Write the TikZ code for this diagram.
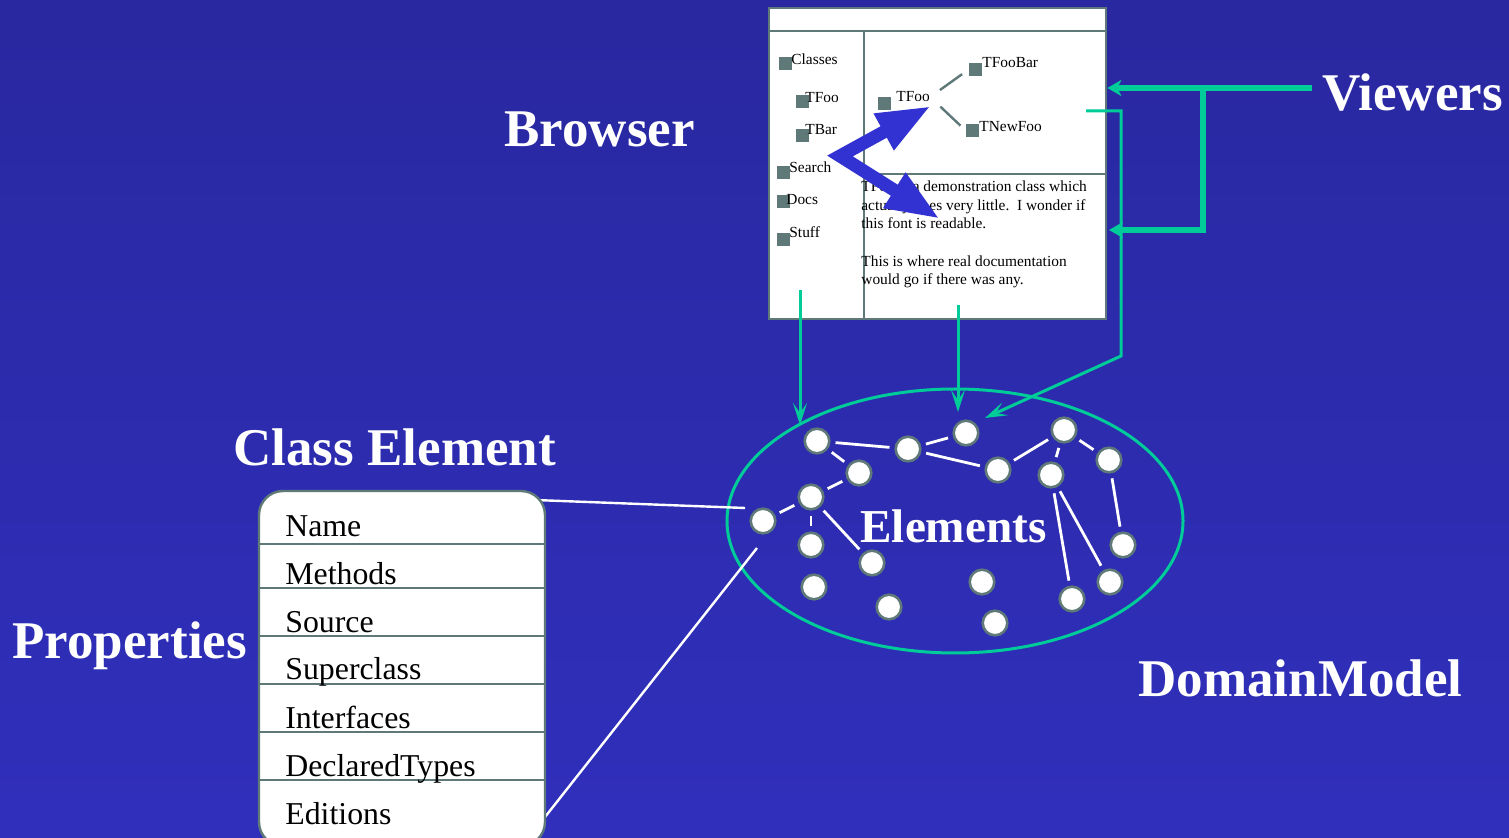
\documentclass[tikz,border=0pt]{standalone}
\usepackage{fontspec}
\setmainfont{Liberation Serif}
\usetikzlibrary{arrows.meta}

\definecolor{bgtop}{RGB}{41,40,160}
\definecolor{bgbottom}{RGB}{48,47,188}
\definecolor{framegray}{RGB}{95,120,120}
\definecolor{viewteal}{RGB}{0,204,153}
\definecolor{navblue}{RGB}{50,50,210}

\tikzset{
  title/.style={anchor=base west, text=white, inner sep=0pt,
    font=\fontsize{26.5}{30}\selectfont\bfseries},
  prop/.style={anchor=base west, inner sep=0pt, font=\fontsize{15.9}{18}\selectfont},
  small/.style={anchor=base west, inner sep=0pt, font=\fontsize{7.7}{9}\selectfont},
  marker/.style={fill=framegray, minimum size=6.5pt, inner sep=0pt},
  elem/.style={circle, fill=white, draw=framegray, line width=1.3pt,
    minimum size=12.3pt, inner sep=0pt},
  link/.style={white, line width=1.4pt, shorten <=2.5pt, shorten >=2.5pt},
  pane/.style={framegray, line width=1.3pt},
  thinview/.style={viewteal, line width=1.5pt,
    -{Stealth[length=11pt,width=7pt,inset=5pt]}},
  thickview/.style={viewteal, line width=3pt,
    -{Stealth[length=7pt,width=8pt,inset=2pt]}},
  navarrow/.style={navblue, line width=6.5pt, line join=miter,
    {Triangle[length=27pt,width=19pt]}-{Triangle[length=27pt,width=19pt]}},
}

\begin{document}
\begin{tikzpicture}[x=0.5pt,y=-0.5pt]
  \useasboundingbox (0,0) rectangle (1509,838);
  \clip (0,0) rectangle (1509,838);
  \shade[top color=bgtop, bottom color=bgbottom] (0,0) rectangle (1509,838);

  % browser window
  \node[draw=framegray, line width=1.3pt, fill=white, inner sep=0pt,
    minimum width=168.5pt, minimum height=155.5pt] (browser) at (937.5,163.5) {};
  \draw[pane] (browser.west |- 0,31) -- (browser.east |- 0,31);
  \draw[pane] (864,31) -- (864,0 |- browser.south);
  \draw[pane] (864,174) -- (browser.east |- 0,174);

  \foreach \t/\mx/\my/\tx/\ty in {Classes/785.5/64/791/65, TFoo/802/101.5/805/103,
      TBar/802/135.5/805/135, Search/783.5/173/789/173, Docs/783.5/202/786/205,
      Stuff/783.5/239.5/789/238}
  {
    \node[marker] (m-\t) at (\mx,\my) {};
    \node[small] (l-\t) at (\tx,\ty) {\t};
  }

  \node[marker] (r-TFoo) at (884.5,104) {};
  \node[small] (rl-TFoo) at (896,102) {TFoo};
  \node[marker] (r-TFooBar) at (975.5,69.5) {};
  \node[small] (rl-TFooBar) at (982,68) {TFooBar};
  \node[marker] (r-TNewFoo) at (972.5,130.5) {};
  \node[small] (rl-TNewFoo) at (979,132) {TNewFoo};
  \draw[pane, line width=1.2pt, shorten <=6pt, shorten >=4pt] (rl-TFoo.east) -- (r-TFooBar.west);
  \draw[pane, line width=1.2pt, shorten <=7pt, shorten >=3.5pt] (rl-TFoo.east) -- (r-TNewFoo.west);

  \foreach \t/\y in {TFoo is a demonstration class which/192,
      actually does very little.\ \ I wonder if/211, this font is readable./229,
      This is where real documentation/267, would go if there was any./285}
    \node[small] (d\y) at (861,\y) {\t};

  % search arrow
  \coordinate (navtop) at (931,106);
  \coordinate (navknee) at (840,156);
  \coordinate (navdoc) at (940,219);
  \draw[navarrow] (navtop) -- (navknee) -- (navdoc);

  % viewers
  \coordinate (vstart) at (1312,88);
  \coordinate (vfork) at (1203,88);
  \coordinate (docin) at (1109,230);
  \draw[thickview] (vstart) -- (browser.east |- vstart);
  \draw[thickview] (vfork) |- (docin);

  \coordinate (treeout) at (1086,111);
  \coordinate (treebend) at (1121,356);
  \coordinate (modelin3) at (985,418);
  \coordinate (classout) at (800,290);
  \coordinate (modelin1) at (800,425);
  \coordinate (docout) at (958,305);
  \coordinate (modelin2) at (958,412);
  \draw[thinview] (treeout) -| (treebend) -- (modelin3);
  \draw[thinview] (classout) -- (modelin1);
  \draw[thinview] (docout) -- (modelin2);

  % domain model
  \draw[viewteal, line width=1.5pt] (955,521) ellipse [x radius=228, y radius=132];
  \foreach \n/\x/\y in {1/817/441, 2/908/449, 3/966/433, 4/859/473, 5/811/497,
      6/763/521, 7/998/470, 8/1064/430, 9/1051/475, 10/1109/460, 11/811/545,
      12/872/563, 13/814/587, 14/889/607, 15/982/582, 16/995/623, 17/1123/545,
      18/1110/582, 19/1072/599}
    \node[elem] (e\n) at (\x,\y) {};
  \foreach \a/\b in {1/2, 1/4, 4/5, 5/6, 5/11, 5/12, 2/3, 2/7, 7/8, 8/9, 8/10,
      10/17, 9/19, 9/18}
    \draw[link] (e\a) -- (e\b);
  \node[title, font=\fontsize{23.6}{28}\selectfont\bfseries] (elements) at (860,543) {Elements};

  % class element
  \coordinate (boxtop) at (535,500);
  \coordinate (boxbottom) at (545,817);
  \coordinate (elemtop) at (745,508);
  \coordinate (elembottom) at (757,548);
  \draw[white, line width=1.2pt] (boxtop) -- (elemtop);
  \draw[white, line width=1.2pt] (boxbottom) -- (elembottom);
  \node[draw=framegray, fill=white, line width=1.2pt, rounded corners=12pt,
    minimum width=143pt, minimum height=177.5pt, inner sep=0pt] (classbox) at (402,668.5) {};
  \foreach \y in {544,588,636,684,732,780}
    \draw[framegray, line width=1.2pt] (classbox.west |- 0,\y) -- (classbox.east |- 0,\y);
  \foreach \t/\y in {Name/537, Methods/585, Source/633, Superclass/680,
      Interfaces/728, DeclaredTypes/776, Editions/824}
    \node[prop] (p-\t) at (285,\y) {\t};

  % labels
  \node[title] (browserlabel) at (504,147) {Browser};
  \node[title] (viewers) at (1322,111) {Viewers};
  \node[title] (classlabel) at (233,466) {Class Element};
  \node[title] (properties) at (12,659) {Properties};
  \node[title] (domain) at (1138,697) {DomainModel};
\end{tikzpicture}
\end{document}
